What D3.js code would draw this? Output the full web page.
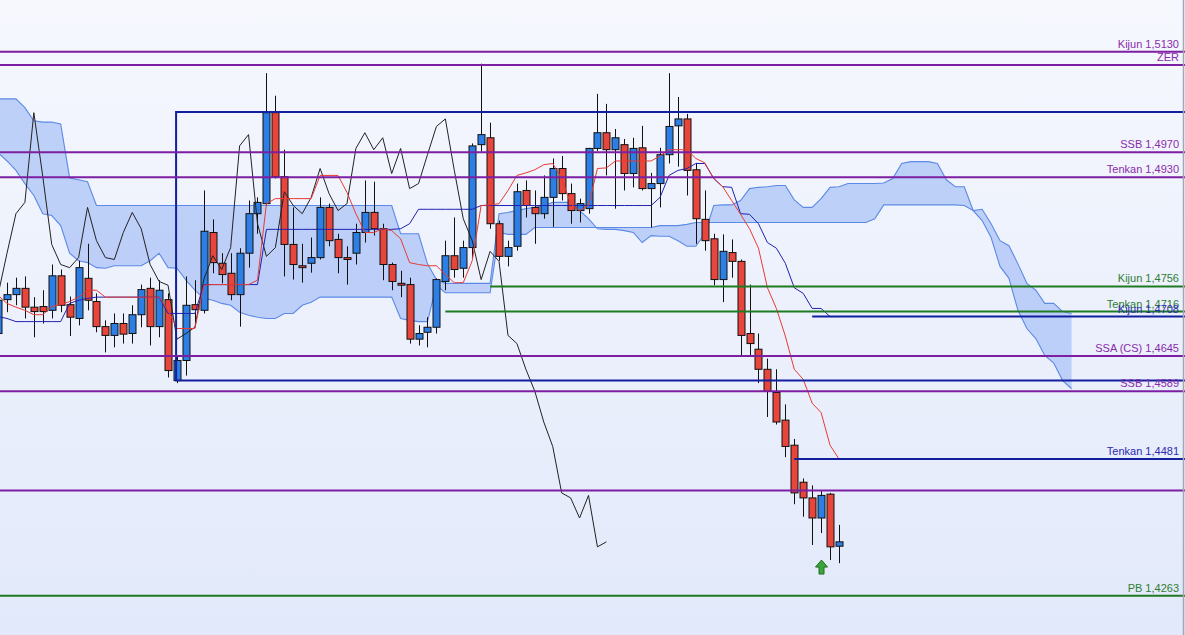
<!DOCTYPE html>
<html><head><meta charset="utf-8">
<script src="https://cdn.jsdelivr.net/npm/d3@7/dist/d3.min.js"></script>
<style>html,body{margin:0;padding:0;background:#fff;overflow:hidden}</style>
</head><body>
<svg id="c" width="1185" height="635"></svg>
<script>
// ---- DATA (index k starts at -1) ----
const firstIndex = -1;
// OHLC, one entry per candle, k = -1 .. 93
const opens = [
 1.4681,1.4735,1.4743,1.4753,1.4723,1.4724,1.4718,1.4773,1.4727,1.4705,
 1.4769,1.4732,1.4692,1.4678,1.4697,1.4681,1.4711,1.4753,1.4692,1.4735,
 1.4606,1.4638,1.4727,1.4718,1.4842,1.4793,1.4777,1.4743,1.4809,1.4872,
 1.4888,1.5033,1.4931,1.4823,1.4789,1.4793,1.4802,1.4882,1.4831,1.4802,
 1.4809,1.4842,1.4874,1.4848,1.4791,1.4761,1.4759,1.4672,1.4683,1.4691,
 1.4764,1.4805,1.4785,1.4818,1.4982,1.4993,1.4856,1.4804,1.4820,1.4909,
 1.4882,1.4872,1.4898,1.4944,1.4904,1.4877,1.4880,1.4976,1.5001,1.4974,
 1.4982,1.4936,1.4977,1.4912,1.4920,1.4966,1.5012,1.5023,1.4942,1.4863,
 1.4832,1.4767,1.4810,1.4796,1.4681,1.4656,1.4624,1.4587,1.4543,1.4503,
 1.4444,1.4419,1.4387,1.4425,1.4342];
const highs = [
 1.4746,1.4762,1.4770,1.4772,1.4739,1.4750,1.4791,1.4783,1.4740,1.4797,
 1.4824,1.4745,1.4702,1.4713,1.4713,1.4726,1.4759,1.4770,1.4766,1.4745,
 1.4646,1.4772,1.4766,1.4909,1.4863,1.4809,1.4809,1.4817,1.4893,1.4898,
 1.5096,1.5060,1.4974,1.4882,1.4824,1.4834,1.4898,1.4888,1.4840,1.4820,
 1.4856,1.4925,1.4923,1.4856,1.4794,1.4781,1.4770,1.4694,1.4707,1.4769,
 1.4829,1.4866,1.4829,1.4984,1.5111,1.5017,1.4861,1.4829,1.4920,1.4925,
 1.4909,1.4933,1.4960,1.4964,1.4920,1.4896,1.4977,1.5063,1.5047,1.5007,
 1.4991,1.4993,1.5012,1.4937,1.4977,1.5096,1.5058,1.5031,1.4953,1.4909,
 1.4840,1.4839,1.4831,1.4799,1.4759,1.4681,1.4641,1.4624,1.4568,1.4513,
 1.4450,1.4439,1.4430,1.4427,1.4376];
const lows = [
 1.4670,1.4715,1.4726,1.4705,1.4675,1.4697,1.4705,1.4715,1.4677,1.4694,
 1.4718,1.4683,1.4651,1.4659,1.4665,1.4665,1.4691,1.4662,1.4675,1.4611,
 1.4602,1.4614,1.4691,1.4713,1.4777,1.4761,1.4734,1.4692,1.4786,1.4840,
 1.4885,1.4928,1.4772,1.4767,1.4762,1.4778,1.4799,1.4820,1.4777,1.4759,
 1.4791,1.4826,1.4837,1.4766,1.4750,1.4739,1.4665,1.4662,1.4659,1.4681,
 1.4750,1.4770,1.4770,1.4802,1.4971,1.4848,1.4797,1.4788,1.4813,1.4866,
 1.4824,1.4864,1.4851,1.4893,1.4856,1.4858,1.4872,1.4972,1.4933,1.4880,
 1.4909,1.4914,1.4909,1.4850,1.4882,1.4952,1.4947,1.4901,1.4824,1.4813,
 1.4758,1.4731,1.4770,1.4645,1.4645,1.4602,1.4548,1.4536,1.4484,1.4409,
 1.4389,1.4344,1.4363,1.4320,1.4315];
const closes = [
 1.4734,1.4743,1.4753,1.4723,1.4716,1.4716,1.4773,1.4726,1.4707,1.4786,
 1.4734,1.4692,1.4678,1.4697,1.4680,1.4711,1.4751,1.4692,1.4750,1.4622,
 1.4638,1.4726,1.4719,1.4844,1.4794,1.4775,1.4743,1.4809,1.4872,1.4890,
 1.5033,1.4931,1.4823,1.4791,1.4786,1.4802,1.4882,1.4829,1.4802,1.4799,
 1.4842,1.4874,1.4848,1.4791,1.4764,1.4758,1.4672,1.4681,1.4691,1.4767,
 1.4805,1.4783,1.4818,1.4980,1.4998,1.4856,1.4804,1.4818,1.4907,1.4885,
 1.4872,1.4898,1.4944,1.4904,1.4877,1.4888,1.4976,1.5001,1.4974,1.4993,
 1.4936,1.4976,1.4912,1.4920,1.4966,1.5011,1.5023,1.4941,1.4864,1.4829,
 1.4767,1.4812,1.4796,1.4678,1.4665,1.4624,1.4589,1.4540,1.4501,1.4427,
 1.4419,1.4387,1.4423,1.4341,1.4349];
// Tenkan-sen and Kijun-sen, k = -1 .. 93
const tenkan = [
 1.4742,1.4729,1.4723,1.4718,1.4711,1.4711,1.4724,1.4727,1.4732,1.4739,
 1.4750,1.4750,1.4739,1.4739,1.4739,1.4739,1.4739,1.4739,1.4739,1.4718,
 1.4689,1.4689,1.4689,1.4758,1.4759,1.4759,1.4759,1.4759,1.4759,1.4766,
 1.4888,1.4896,1.4896,1.4896,1.4896,1.4896,1.4933,1.4933,1.4933,1.4906,
 1.4872,1.4842,1.4842,1.4848,1.4845,1.4832,1.4794,1.4791,1.4789,1.4789,
 1.4775,1.4762,1.4762,1.4797,1.4885,1.4886,1.4888,1.4909,1.4933,1.4937,
 1.4942,1.4950,1.4952,1.4928,1.4888,1.4877,1.4885,1.4944,1.4945,1.4956,
 1.4956,1.4956,1.4956,1.4956,1.4964,1.4974,1.4974,1.4974,1.4960,1.4953,
 1.4928,1.4915,1.4893,1.4871,1.4848,1.4817,1.4754,1.4721,1.4677,1.4624,
 1.4608,1.4570,1.4555,1.4503,1.4481];
const kijun = [
 1.4708,1.4705,1.4700,1.4700,1.4700,1.4700,1.4700,1.4700,1.4729,1.4734,
 1.4737,1.4739,1.4739,1.4739,1.4739,1.4739,1.4739,1.4739,1.4739,1.4713,
 1.4713,1.4713,1.4713,1.4759,1.4759,1.4759,1.4759,1.4759,1.4759,1.4759,
 1.4847,1.4847,1.4847,1.4847,1.4847,1.4847,1.4847,1.4847,1.4847,1.4847,
 1.4847,1.4847,1.4847,1.4847,1.4847,1.4848,1.4856,1.4879,1.4879,1.4879,
 1.4879,1.4879,1.4879,1.4879,1.4885,1.4885,1.4885,1.4885,1.4885,1.4885,
 1.4885,1.4885,1.4885,1.4885,1.4885,1.4885,1.4885,1.4885,1.4885,1.4885,
 1.4885,1.4885,1.4885,1.4885,1.4898,1.4933,1.4941,1.4944,1.4952,1.4952,
 1.4928,1.4915,1.4914,1.4872,1.4871,1.4856,1.4826,1.4817,1.4793,1.4754,
 1.4745,1.4721,1.4721,1.4708,1.4708];
// Senkou spans (cloud), k = -1 .. 119
const spanA = [
 1.5055,1.5055,1.5055,1.5041,1.5020,1.5018,1.5018,1.5015,1.4929,1.4926,
 1.4923,1.4885,1.4885,1.4885,1.4885,1.4885,1.4885,1.4885,1.4885,1.4885,
 1.4885,1.4885,1.4885,1.4885,1.4885,1.4885,1.4885,1.4885,1.4885,1.4885,
 1.4885,1.4885,1.4885,1.4885,1.4885,1.4885,1.4885,1.4885,1.4885,1.4885,
 1.4885,1.4885,1.4885,1.4885,1.4885,1.4840,1.4840,1.4840,1.4792,1.4767,
 1.4761,1.4761,1.4761,1.4761,1.4761,1.4761,1.4872,1.4874,1.4877,1.4880,
 1.4882,1.4885,1.4890,1.4890,1.4890,1.4877,1.4864,1.4848,1.4847,1.4847,
 1.4845,1.4842,1.4826,1.4837,1.4836,1.4836,1.4829,1.4820,1.4820,1.4840,
 1.4885,1.4886,1.4886,1.4893,1.4912,1.4914,1.4915,1.4917,1.4917,1.4894,
 1.4882,1.4882,1.4896,1.4914,1.4915,1.4920,1.4920,1.4920,1.4920,1.4921,
 1.4928,1.4952,1.4955,1.4955,1.4955,1.4952,1.4926,1.4915,1.4915,1.4877,
 1.4879,1.4856,1.4829,1.4821,1.4792,1.4761,1.4750,1.4729,1.4729,1.4716,
 1.4713];
const spanB = [
 1.4969,1.4956,1.4941,1.4920,1.4901,1.4872,1.4869,1.4853,1.4809,1.4797,
 1.4794,1.4786,1.4785,1.4789,1.4789,1.4789,1.4789,1.4797,1.4809,1.4786,
 1.4785,1.4766,1.4750,1.4737,1.4734,1.4729,1.4726,1.4715,1.4710,1.4707,
 1.4705,1.4705,1.4713,1.4713,1.4726,1.4731,1.4739,1.4739,1.4739,1.4739,
 1.4739,1.4739,1.4739,1.4739,1.4739,1.4705,1.4702,1.4700,1.4700,1.4758,
 1.4746,1.4746,1.4746,1.4746,1.4746,1.4746,1.4842,1.4839,1.4839,1.4839,
 1.4850,1.4850,1.4850,1.4850,1.4850,1.4850,1.4850,1.4850,1.4850,1.4850,
 1.4850,1.4850,1.4850,1.4850,1.4853,1.4853,1.4853,1.4855,1.4858,1.4858,
 1.4858,1.4858,1.4858,1.4858,1.4858,1.4858,1.4858,1.4858,1.4858,1.4858,
 1.4858,1.4858,1.4858,1.4858,1.4858,1.4858,1.4858,1.4858,1.4864,1.4886,
 1.4886,1.4886,1.4886,1.4886,1.4886,1.4886,1.4886,1.4886,1.4885,1.4877,
 1.4861,1.4834,1.4788,1.4769,1.4718,1.4689,1.4673,1.4646,1.4634,1.4606,
 1.4593];
const chikouShift = 26;
// Horizontal levels
const levelValues = [1.5130, 1.5109, 1.4970, 1.4930, 1.4645, 1.4589, 1.4431, 1.4756, 1.4716, 1.4263, 1.4708, 1.4481];
const levelLabels = ["Kijun 1,5130","ZER","SSB 1,4970","Tenkan 1,4930","SSA (CS) 1,4645","SSB 1,4589","","Kijun 1,4756","Tenkan 1,4716","PB 1,4263","Kijun 1,4708","Tenkan 1,4481"];
const levelKinds  = ["purple","purple","purple","purple","purple","purple","purple","green","green","green","blue","blue"];
const levelStart  = [-1,-1,-1,-1,-1,-1,-1,54,49,-1,90,88];
// Range box
const boxValues = [1.5034, 1.4606];
const boxStart = 18.9;
// Buy signal
const signalIndex = 91;

// ---- DRAW ----
const W = 1185, H = 635;
const svg = d3.select("#c");
const x = d3.scaleLinear().domain([0, 93]).range([7, 839]);
const y = d3.scaleLinear().domain([1.4263, 1.5130]).range([595.8, 51.8]);
const kx = i => x(i + firstIndex);

const defs = svg.append("defs");
const g = defs.append("linearGradient").attr("id","bg").attr("x1",0).attr("y1",0).attr("x2",0).attr("y2",1);
g.append("stop").attr("offset","0%").attr("stop-color","#f6f8fe");
g.append("stop").attr("offset","100%").attr("stop-color","#e2e9fa");
svg.append("rect").attr("width",W).attr("height",H).attr("fill","url(#bg)");

// cloud
const cloudIdx = d3.range(spanA.length);
svg.append("path").datum(cloudIdx)
  .attr("d", d3.area().x(i=>kx(i)).y0(i=>y(spanA[i])).y1(i=>y(spanB[i])))
  .attr("fill","#b4c9f7").attr("fill-opacity",0.85);
[spanA, spanB].forEach(s => {
  svg.append("path").datum(cloudIdx)
    .attr("d", d3.line().x(i=>kx(i)).y(i=>y(s[i])))
    .attr("fill","none").attr("stroke","#5c8ae6").attr("stroke-width",1.1);
});

// candles
const cIdx = d3.range(opens.length);
const cg = svg.append("g");
cg.selectAll("line.w").data(cIdx).join("line")
  .attr("x1",i=>Math.round(kx(i))+0.5).attr("x2",i=>Math.round(kx(i))+0.5)
  .attr("y1",i=>y(highs[i])).attr("y2",i=>y(lows[i]))
  .attr("stroke","#111").attr("stroke-width",1);
cg.selectAll("rect").data(cIdx).join("rect")
  .attr("x",i=>Math.round(kx(i))-3)
  .attr("width",7)
  .attr("y",i=>y(Math.max(opens[i],closes[i])))
  .attr("height",i=>Math.max(1.5, Math.abs(y(opens[i])-y(closes[i]))))
  .attr("fill",i=>closes[i]>=opens[i] ? "#2d7fe6" : "#e8453c")
  .attr("stroke","#111").attr("stroke-width",1);

// chikou
const chIdx = cIdx.filter(i => i - chikouShift >= 0 || (i + firstIndex - chikouShift) >= firstIndex);
svg.append("path").datum(cIdx.filter(i => i + firstIndex - chikouShift >= -1))
  .attr("d", d3.line().x(i=>x(i + firstIndex - chikouShift)).y(i=>y(closes[i])))
  .attr("fill","none").attr("stroke","#222").attr("stroke-width",1);

// tenkan / kijun
svg.append("path").datum(cIdx)
  .attr("d", d3.line().x(i=>kx(i)).y(i=>y(kijun[i])))
  .attr("fill","none").attr("stroke","#1f22b0").attr("stroke-width",1);
svg.append("path").datum(cIdx)
  .attr("d", d3.line().x(i=>kx(i)).y(i=>y(tenkan[i])))
  .attr("fill","none").attr("stroke","#ea3a32").attr("stroke-width",1);

// levels
const lineColor = {purple:"#7d1fa3", green:"#1f7a22", blue:"#12209e"};
const textColor = {purple:"#8a2bab", green:"#2e7d32", blue:"#2a2ab4"};
// box
svg.append("path")
  .attr("d", `M${W},${y(boxValues[0])}H${x(boxStart)}V${y(boxValues[1])}H${W}`)
  .attr("fill","none").attr("stroke","#12209e").attr("stroke-width",2);
levelValues.forEach((v,i) => {
  const x0 = levelStart[i] < 0 ? 0 : x(levelStart[i]);
  svg.append("line").attr("x1",x0).attr("x2",W).attr("y1",y(v)).attr("y2",y(v))
    .attr("stroke",lineColor[levelKinds[i]]).attr("stroke-width",2);
});
levelValues.forEach((v,i) => {
  if (!levelLabels[i]) return;
  svg.append("text").attr("x",1179).attr("y",y(v)-4)
    .attr("text-anchor","end")
    .attr("font-family","'Liberation Sans', Arial, sans-serif").attr("font-size",11)
    .attr("fill",textColor[levelKinds[i]]).text(levelLabels[i]);
});

// buy arrow
const ax = Math.round(kx(signalIndex + 1)) + 0.5, ay = y(lows[signalIndex + 1]) + 27;
svg.append("path")
  .attr("d", `M${ax},${ay} L${ax+6},${ay+7} L${ax+2.5},${ay+7} L${ax+2.5},${ay+14} L${ax-2.5},${ay+14} L${ax-2.5},${ay+7} L${ax-6},${ay+7} Z`)
  .attr("fill","#3aa53a").attr("stroke","#1e6e1e").attr("stroke-width",1);

// right border
svg.append("line").attr("x1",1183.5).attr("x2",1183.5).attr("y1",0).attr("y2",H)
  .attr("stroke","#a0a8b8").attr("stroke-width",1.5);
</script>
</body></html>
